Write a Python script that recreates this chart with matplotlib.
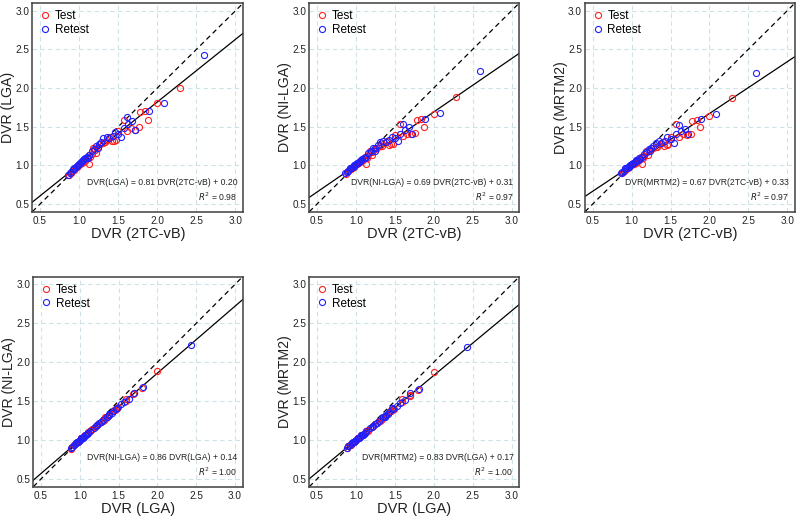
import matplotlib
matplotlib.use('Agg')
import matplotlib.pyplot as plt

plt.rcParams['font.family'] = ['Liberation Sans', 'DejaVu Sans']

# ---- data: DVR values per method (Test scan) ----
test_2tc = [2.29, 2.00, 1.88, 1.84, 1.78, 1.76, 1.71, 1.57, 1.61, 1.66, 1.50, 1.47, 1.45, 1.42,
            1.40, 1.36, 1.33, 1.31, 1.27, 1.24, 1.21, 1.18, 1.16, 1.14, 1.12, 1.10, 1.08, 1.05,
            1.03, 1.01, 0.99, 0.97, 0.95, 0.93, 0.91, 0.89, 0.87, 1.06, 0.98, 1.02, 1.20, 1.13]
test_lga = [2.00, 1.80, 1.59, 1.70, 1.69, 1.49, 1.46, 1.59, 1.44, 1.48, 1.45, 1.33, 1.32, 1.31,
            1.36, 1.33, 1.30, 1.29, 1.27, 1.24, 1.16, 1.22, 1.15, 1.11, 1.13, 1.09, 1.06, 1.04,
            1.03, 1.02, 1.00, 0.98, 0.96, 0.94, 0.93, 0.90, 0.88, 1.07, 0.99, 1.03, 1.20, 1.02]
test_nilga = [1.89, 1.67, 1.50, 1.60, 1.59, 1.42, 1.40, 1.53, 1.38, 1.41, 1.39, 1.28, 1.27, 1.26,
              1.31, 1.29, 1.25, 1.25, 1.23, 1.21, 1.14, 1.19, 1.13, 1.10, 1.11, 1.08, 1.05, 1.04,
              1.03, 1.02, 1.00, 0.98, 0.97, 0.95, 0.94, 0.91, 0.89, 1.06, 0.99, 1.03, 1.17, 1.02]
test_mrtm2 = [1.87, 1.64, 1.49, 1.58, 1.57, 1.40, 1.39, 1.53, 1.37, 1.40, 1.37, 1.27, 1.26, 1.25,
              1.30, 1.28, 1.24, 1.24, 1.22, 1.20, 1.13, 1.18, 1.12, 1.09, 1.11, 1.07, 1.05, 1.03,
              1.02, 1.02, 1.00, 0.98, 0.97, 0.95, 0.94, 0.92, 0.90, 1.06, 0.99, 1.02, 1.17, 1.02]

# ---- data: DVR values per method (Retest scan) ----
retest_2tc = [2.60, 2.08, 1.89, 1.61, 1.68, 1.63, 1.57, 1.54, 1.72, 1.50, 1.46, 1.43, 1.38, 1.35,
              1.31, 1.28, 1.25, 1.22, 1.19, 1.16, 1.13, 1.10, 1.08, 1.06, 1.04, 1.02, 1.00, 0.98,
              0.96, 0.94, 0.92, 0.90, 0.88, 0.86, 1.05, 1.01, 0.97, 0.93, 1.11, 1.24]
retest_lga = [2.43, 1.81, 1.70, 1.63, 1.57, 1.53, 1.48, 1.37, 1.46, 1.41, 1.43, 1.38, 1.35, 1.37,
              1.35, 1.30, 1.27, 1.25, 1.21, 1.18, 1.13, 1.11, 1.09, 1.08, 1.05, 1.04, 1.02, 1.00,
              0.98, 0.96, 0.95, 0.92, 0.90, 0.88, 1.07, 1.03, 0.99, 0.95, 1.10, 1.22]
retest_nilga = [2.22, 1.68, 1.60, 1.53, 1.49, 1.46, 1.41, 1.32, 1.40, 1.35, 1.37, 1.33, 1.30, 1.32,
                1.30, 1.26, 1.23, 1.22, 1.18, 1.16, 1.11, 1.09, 1.08, 1.07, 1.04, 1.03, 1.02, 1.00,
                0.98, 0.97, 0.96, 0.93, 0.91, 0.90, 1.06, 1.03, 0.99, 0.96, 1.09, 1.19]
retest_mrtm2 = [2.19, 1.66, 1.60, 1.52, 1.47, 1.44, 1.40, 1.29, 1.41, 1.34, 1.36, 1.32, 1.29, 1.31,
                1.29, 1.25, 1.22, 1.21, 1.17, 1.15, 1.11, 1.09, 1.07, 1.07, 1.04, 1.03, 1.02, 1.00,
                0.98, 0.97, 0.96, 0.93, 0.92, 0.90, 1.06, 1.02, 0.99, 0.96, 1.08, 1.18]

# ---- panels: (x method, y method) and regression results ----
panel_x = ['2TC-vB', '2TC-vB', '2TC-vB', 'LGA', 'LGA']
panel_y = ['LGA', 'NI-LGA', 'MRTM2', 'NI-LGA', 'MRTM2']
fit_slope = [0.81, 0.69, 0.67, 0.86, 0.83]
fit_intercept = [0.20, 0.31, 0.33, 0.14, 0.17]
fit_r2 = [0.98, 0.97, 0.97, 1.00, 1.00]
ticks = [0.5, 1.0, 1.5, 2.0, 2.5, 3.0]

test = {'2TC-vB': test_2tc, 'LGA': test_lga, 'NI-LGA': test_nilga, 'MRTM2': test_mrtm2}
retest = {'2TC-vB': retest_2tc, 'LGA': retest_lga, 'NI-LGA': retest_nilga, 'MRTM2': retest_mrtm2}

W, H = 797, 519
fig = plt.figure(figsize=(W / 100, H / 100), dpi=100)

# axes boxes in pixels (left, top, right, bottom)
boxes = [(32.3, 3.0, 243.3, 211.7), (309.3, 3.0, 519.3, 211.7), (585.0, 3.0, 795.0, 211.7),
         (33.3, 276.7, 242.7, 486.7), (309.3, 276.7, 519.3, 486.7)]

for i, (l, t, r, b) in enumerate(boxes):
    ax = fig.add_axes([l / W, (H - b) / H, (r - l) / W, (b - t) / H])
    xm, ym = panel_x[i], panel_y[i]
    ax.set_xlim(0.4, 3.1)
    ax.set_ylim(0.4, 3.1)
    ax.set_xticks(ticks)
    ax.set_yticks(ticks)
    ax.set_xticklabels([f'{v:.1f}' for v in ticks])
    ax.set_yticklabels([f'{v:.1f}' for v in ticks])
    ax.tick_params(length=0, labelsize=7.2, colors='#222222')
    ax.tick_params(axis='y', pad=2.2)
    ax.tick_params(axis='x', pad=3)
    ax.grid(True, color='#cfe2e8', linestyle=(0, (4, 3)), linewidth=0.8)
    ax.set_axisbelow(True)
    for s in ax.spines.values():
        s.set_color('#404040')
        s.set_linewidth(1.1)

    ax.axline((0, 0), slope=1, color='black', linestyle=(0, (4, 3)), linewidth=0.9, zorder=2)
    ax.axline((0, fit_intercept[i]), slope=fit_slope[i], color='black', linewidth=0.9, zorder=2)

    ax.plot(test[xm], test[ym], linestyle='none', marker='o', markersize=4.4,
            markerfacecolor='none', markeredgecolor='#ff2020', markeredgewidth=0.8,
            label='Test', zorder=3)
    ax.plot(retest[xm], retest[ym], linestyle='none', marker='o', markersize=4.4,
            markerfacecolor='none', markeredgecolor='#2020ff', markeredgewidth=0.8,
            label='Retest', zorder=3)

    ax.legend(loc='upper left', frameon=False, fontsize=8.5, handletextpad=0.3,
              borderaxespad=0.2, labelspacing=0.15, handlelength=1.0,
              bbox_to_anchor=(0.0, 1.0))

    ax.text(0.972, 0.139, f'DVR({ym}) = {fit_slope[i]:.2f} DVR({xm}) + {fit_intercept[i]:.2f}',
            transform=ax.transAxes, ha='right', va='center', fontsize=6.2, color='#222222')
    ax.text(0.972, 0.072, f'$R^2$ = {fit_r2[i]:.2f}',
            transform=ax.transAxes, ha='right', va='center', fontsize=6.2, color='#222222')

    ax.set_xlabel(f'DVR ({xm})', fontsize=10.5, color='#222222', va='center')
    ax.set_ylabel(f'DVR ({ym})', fontsize=10.2, color='#222222', va='center')
    ax.xaxis.set_label_coords(0.5, -0.108)
    ax.yaxis.set_label_coords(-24.5 / (r - l), 0.5)

fig.savefig('out.png', dpi=100)
